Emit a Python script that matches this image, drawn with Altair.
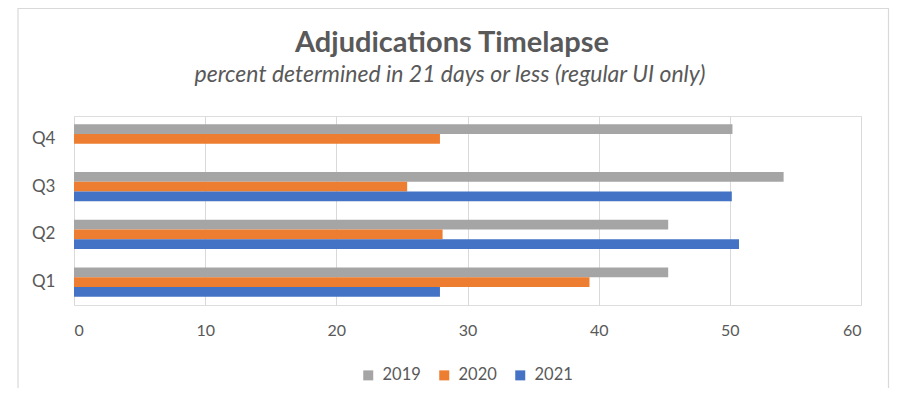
import altair as alt
import pandas as pd

quarters = ["Q1", "Q2", "Q3", "Q4"]
years = ["2019", "2020", "2021"]
v2019 = [45.3, 45.3, 54.1, 50.2]
v2020 = [39.3, 28.1, 25.4, 27.9]
v2021 = [27.9, 50.7, 50.15, None]
x_ticks = [0, 10, 20, 30, 40, 50, 60]
colors = ["#A5A5A5", "#ED7D31", "#4472C4"]
title_text = "Adjudications Timelapse"
subtitle_text = "percent determined in 21 days or less (regular UI only)"

rows = []
for yr, vals in zip(years, [v2019, v2020, v2021]):
    for q, v in zip(quarters, vals):
        if v is not None:
            rows.append({"Quarter": q, "Year": yr, "Value": v})
df = pd.DataFrame(rows)

FONT = "Lato"
TXT = "#595959"

bars = alt.Chart(df).mark_bar().encode(
    y=alt.Y("Quarter:N", sort=["Q4", "Q3", "Q2", "Q1"],
            scale=alt.Scale(paddingInner=0.39, paddingOuter=0.175),
            axis=alt.Axis(title=None, ticks=False, tickSize=0, domain=False,
                          labelPadding=19, labelFontSize=17, labelColor=TXT,
                          labelFont=FONT, grid=False)),
    yOffset=alt.YOffset("Year:N", sort=years),
    x=alt.X("Value:Q", scale=alt.Scale(domain=[0, 60], nice=False),
            axis=alt.Axis(title=None, values=x_ticks, ticks=False, tickSize=0,
                          domain=False, labelPadding=17, labelFontSize=16,
                          labelColor=TXT, labelFont=FONT, grid=True,
                          gridColor="#D9D9D9", gridWidth=1)),
    color=alt.Color("Year:N", sort=years,
                    scale=alt.Scale(domain=years, range=colors),
                    legend=alt.Legend(title=None, orient="none", direction="horizontal",
                                      legendX=286, legendY=251, padding=0,
                                      symbolType="square", symbolSize=100,
                                      symbolStrokeWidth=0, labelOffset=6,
                                      columnPadding=15, labelFontSize=16.5,
                                      labelColor=TXT, labelFont=FONT)),
)

border_df = pd.DataFrame({"a": [0]})
border = alt.Chart(border_df).mark_rect(fillOpacity=0, stroke="#D9D9D9", strokeWidth=1.2).encode(
    x=alt.value(-56), x2=alt.value(814.5), y=alt.value(-107.5), y2=alt.value(400)
)

title_df = pd.DataFrame({"t": [title_text]})
title = alt.Chart(title_df).mark_text(font=FONT, fontSize=29, fontWeight="bold",
                                      color=TXT, align="center", baseline="alphabetic").encode(
    text="t:N", x=alt.value(378), y=alt.value(-64.5)
)
sub_df = pd.DataFrame({"t": [subtitle_text]})
subtitle = alt.Chart(sub_df).mark_text(font=FONT, fontSize=23, fontStyle="italic",
                                       color=TXT, align="center", baseline="alphabetic").encode(
    text="t:N", x=alt.value(376), y=alt.value(-34)
)

chart = alt.layer(border, bars, title, subtitle).properties(
    width=787, height=189,
    autosize=alt.AutoSizeParams(type="none"),
    padding={"left": 66, "top": 108, "right": 29, "bottom": 83},
).configure_view(stroke=None).configure(background="white")

chart.save("out.html", embed_options={"renderer": "svg", "actions": False})
